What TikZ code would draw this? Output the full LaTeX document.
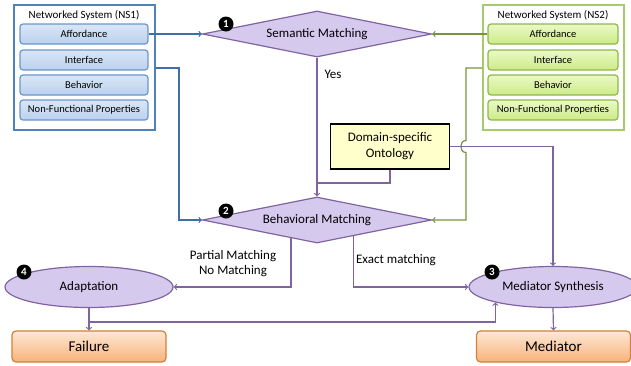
\documentclass[tikz,border=0pt]{standalone}
\usepackage{fontspec}
\setmainfont{Carlito}
\usepackage{tikz}
\usetikzlibrary{positioning,shapes.geometric}

\definecolor{nsblue}{HTML}{4F81BD}
\definecolor{lineblue}{HTML}{3F6EA8}
\definecolor{partbluetop}{HTML}{D9E6F6}
\definecolor{partbluebot}{HTML}{BBD1EE}
\definecolor{partblueline}{HTML}{6A96CC}
\definecolor{nsgreen}{HTML}{A8CB6A}
\definecolor{linegreen}{HTML}{77933C}
\definecolor{partgreentop}{HTML}{EAF9C6}
\definecolor{partgreenbot}{HTML}{CCEA88}
\definecolor{partgreenline}{HTML}{8EB84A}
\definecolor{matchfill}{HTML}{D6C9EE}
\definecolor{matchline}{HTML}{8064A2}
\definecolor{ontofill}{HTML}{FFFFCC}
\definecolor{endtop}{HTML}{FDE8D6}
\definecolor{endbot}{HTML}{F8B27A}
\definecolor{endline}{HTML}{D0813A}

\begin{document}
\begin{tikzpicture}
        [x=1pt,y=-1pt,line width=1.2pt,
        every node/.style={inner sep=0pt,font=\fontsize{10.5}{12}\selectfont},
        nsone/.style={draw=nsblue,fill=white,minimum width=141pt,minimum height=125pt},
        nstwo/.style={draw=nsgreen,fill=white,minimum width=141pt,minimum height=125pt},
        partone/.style={draw=partblueline,rounded corners=3pt,top color=partbluetop,bottom color=partbluebot,minimum width=128pt,minimum height=20pt},
        parttwo/.style={draw=partgreenline,rounded corners=3pt,top color=partgreentop,bottom color=partgreenbot,minimum width=130pt,minimum height=20pt},
        decision/.style={diamond,aspect=5,draw=matchline,fill=matchfill,minimum width=229pt,minimum height=46pt,font=\fontsize{13}{15}\selectfont},
        process/.style={ellipse,draw=matchline,fill=matchfill,minimum width=168pt,minimum height=41pt,font=\fontsize{13}{15}\selectfont},
        result/.style={draw=endline,rounded corners=4pt,top color=endtop,bottom color=endbot,minimum width=154pt,minimum height=31pt,font=\fontsize{15}{17}\selectfont},
        badge/.style={circle,fill=black,text=white,minimum size=15pt,font=\bfseries\fontsize{11}{12}\selectfont},
        note/.style={align=center,font=\fontsize{13}{15}\selectfont},
        blueflow/.style={draw=lineblue,->},
        greenflow/.style={draw=linegreen,->},
        purpflow/.style={draw=matchline,->}]
        \useasboundingbox (0,0) rectangle (631,365);

        % networked systems
        \node[nsone] (ns1) at (84.5,67.5) {};
        \node[font=\fontsize{11}{13}\selectfont] (t1) at (84,15) {Networked System (NS1)};
        \foreach \i/\t/\y in {1/Affordance/34, 2/Interface/60, 3/Behavior/85, 4/Non-Functional Properties/110}
            \node[partone] (l\i) at (84,\y) {\t};

        \node[nstwo] (ns2) at (553.5,67.5) {};
        \node[font=\fontsize{11}{13}\selectfont] (t2) at (553,15) {Networked System (NS2)};
        \foreach \i/\t/\y in {1/Affordance/34, 2/Interface/60, 3/Behavior/85, 4/Non-Functional Properties/110}
            \node[parttwo] (r\i) at (553,\y) {\t};

        % matching steps
        \node[decision] (sem) at (317,34) {Semantic Matching};
        \node[decision] (beh) at (317,220) {Behavioral Matching};
        \node[draw=black,fill=ontofill,minimum width=119pt,minimum height=45pt,align=center,font=\fontsize{13}{16}\selectfont]
            (ont) at (390,146.5) {Domain-specific\\Ontology};
        \node[process] (ada) at (89,287) {Adaptation};
        \node[process] (syn) at (553,287) {Mediator Synthesis};
        \node[result] (fail) at (89,346.5) {Failure};
        \node[result] (med) at (553.5,346.5) {Mediator};

        \node[badge] (b1) at (226,24) {1};
        \node[badge] (b2) at (226,211) {2};
        \node[badge] (b3) at (492,272) {3};
        \node[badge] (b4) at (24,272) {4};

        \node[note] (yes) at (333,74) {Yes};
        \node[note] (part) at (233,264) {Partial Matching\\No Matching};
        \node[note] (exact) at (396,260) {Exact matching};

        \coordinate (bj) at (179,68);
        \coordinate (gj) at (466,68);
        \coordinate (hopa) at (466,140.5);
        \coordinate (hopb) at (466,152.5);
        \coordinate (oj) at (317,183);
        \coordinate (br) at (89,322);

        \draw[blueflow] (l1.east) -- (sem.west);
        \draw[blueflow] (ns1.east |- bj) -- (bj) |- (beh.west);
        \draw[greenflow] (r1.west) -- (sem.east);
        \draw[greenflow] (ns2.west |- gj) -- (gj) -- (hopa) .. controls (459,140.5) and (459,152.5) .. (hopb) |- (beh.east);

        \draw[purpflow] (sem.south) -- (beh.north);
        \draw[draw=matchline] (ont.south) |- (oj);
        \draw[purpflow] (ont.east) -| (syn.north);
        \draw[purpflow] (beh.-145.6) |- (ada.east);
        \draw[purpflow] (beh.-24.5) |- (syn.west);
        \draw[purpflow] (ada.south) -- (fail.north);
        \draw[purpflow] (br) -| (syn.-165.5);
        \draw[purpflow] (syn.south) -- (med.north);

      \end{tikzpicture}
\end{document}
